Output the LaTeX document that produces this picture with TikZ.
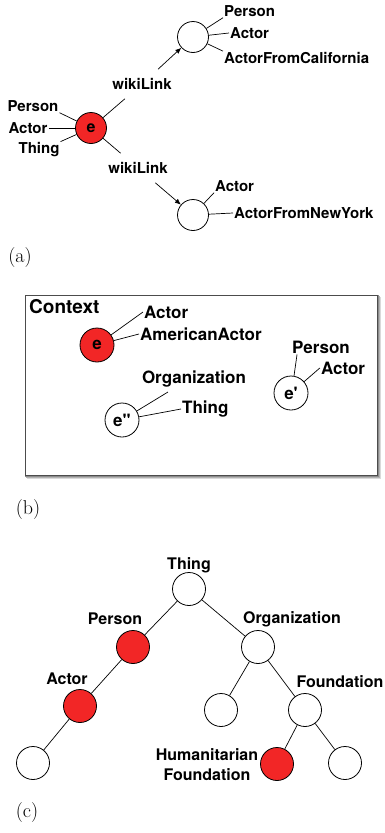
\documentclass[tikz,border=0pt]{standalone}
\usepackage{fontspec}
\newfontfamily\hv{TeX Gyre Heros}[Ligatures=TeXOff]
\usetikzlibrary{arrows.meta}
\definecolor{nodered}{RGB}{242,38,38}
\begin{document}
\begin{tikzpicture}[x=1pt,y=-1pt,
 la/.style={font=\hv\bfseries\fontsize{15}{17}\selectfont, inner sep=1pt},
 lb/.style={font=\hv\bfseries\fontsize{17}{19}\selectfont, inner sep=1pt},
 lc/.style={font=\hv\bfseries\fontsize{16}{20}\selectfont, inner sep=0pt, align=center},
 ent/.style={circle, draw=black, line width=0.8pt, inner sep=0pt, fill=white},
 redent/.style={ent, fill=nodered},
 conn/.style={line width=0.7pt},
 wl/.style={la, inner xsep=2pt, inner ysep=9pt},
 panel/.style={font=\fontsize{20}{24}\selectfont, inner sep=0pt},
 arr/.style={conn, -{Latex[length=6pt,width=5pt]}}
]
\useasboundingbox (0,0) rectangle (385,833);

% ---------------- (a)
\node[redent, minimum size=31pt, font=\hv\bfseries\fontsize{16}{18}\selectfont] (ea) at (91,128) {e};
\node[ent, minimum size=31pt] (ta) at (193,37) {};
\node[ent, minimum size=31pt] (ba) at (193,215) {};
\node[wl] (w1) at (142,84) {wikiLink};
\node[wl] (w2) at (138,168) {wikiLink};
\draw[conn] (ea) -- (w1);
\draw[arr] (w1) -- (ta);
\draw[conn] (ea) -- (w2);
\draw[arr] (w2) -- (ba);

\node[la, anchor=west] (t1) at (223,11) {Person};
\node[la, anchor=west] (t2) at (229,33) {Actor};
\node[la, anchor=west] (t3) at (223,58) {ActorFromCalifornia};
\draw[conn] (ta) -- (t1.south west);
\draw[conn] (ta) -- (t2.west);
\draw[conn] (ta) -- (t3.north west);

\node[la, anchor=west] (b1) at (214,186) {Actor};
\node[la, anchor=west] (b2) at (233,213) {ActorFromNewYork};
\draw[conn] (ba) -- (b1.south west);
\draw[conn] (ba) -- (b2.west);

\node[la] (l1) at (33,106) {Person};
\node[la] (l2) at (28,128) {Actor};
\node[la] (l3) at (39,150) {Thing};
\draw[conn] (l1.south east) -- (ea);
\draw[conn] (l2.east) -- (ea);
\draw[conn] (l3.north east) -- (ea);

\node[panel] (pa) at (20,258) {(a)};

% ---------------- (b)
\fill[black!15] (27,297) rectangle (381,479);
\fill[black!30] (26,296) rectangle (380,478);
\fill[black!45] (25,295) rectangle (379,477);
\node[draw=black!70, line width=1.2pt, fill=white, minimum width=352pt, minimum height=180pt, inner sep=0pt, anchor=north west] (ctx) at (25,295) {};
\node[font=\hv\bfseries\fontsize{19}{21}\selectfont, inner sep=0pt, anchor=west] (ctxl) at (29,307) {Context};

\node[redent, minimum size=34pt, font=\hv\bfseries\fontsize{17}{19}\selectfont] (eb) at (97,345) {e};
\node[lb, anchor=west] (ba1) at (143,312) {Actor};
\node[lb, anchor=west] (ba2) at (139,334) {AmericanActor};
\draw[conn] (eb) -- (ba1.west);
\draw[conn] (eb) -- (ba2.west);

\node[ent, minimum size=34pt, font=\hv\bfseries\fontsize{17}{19}\selectfont] (ep) at (291,393) {e'};
\node[lb] (bp1) at (321,347) {Person};
\node[lb] (bp2) at (343,368) {Actor};
\draw[conn] (ep.80) -- ([xshift=6pt]bp1.south west);
\draw[conn] (ep) -- (bp2.west);

\node[ent, minimum size=34pt, font=\hv\bfseries\fontsize{17}{19}\selectfont] (epp) at (122,420) {e"};
\node[lb] (bo) at (194,379) {Organization};
\node[lb, anchor=west] (bt) at (181,409) {Thing};
\coordinate (orgend) at (168,392);
\draw[conn] (epp) -- (orgend);
\draw[conn] (epp) -- (bt.west);

\node[panel] (pb) at (28,510) {(b)};

% ---------------- (c)
\tikzset{cn/.style={ent, minimum size=33pt}, cr/.style={redent, minimum size=33pt}}
\node[cn] (cthing) at (189,589) {};
\node[cr] (cperson) at (133,647) {};
\node[cn] (corg) at (258,647) {};
\node[cr] (cactor) at (80,706) {};
\node[cn] (cleaf) at (33,763) {};
\node[cn] (cmid) at (221,710) {};
\node[cn] (cfound) at (305,710) {};
\node[cr] (chum) at (277,764) {};
\node[cn] (cright) at (345,763) {};
\draw[conn] (cthing) -- (cperson);
\draw[conn] (cthing) -- (corg);
\draw[conn] (cperson) -- (cactor);
\draw[conn] (cactor) -- (cleaf);
\draw[conn] (corg) -- (cmid);
\draw[conn] (corg) -- (cfound);
\draw[conn] (cfound) -- (chum);
\draw[conn] (cfound) -- (cright);

\node[lc] (lthing) at (189,565) {Thing};
\node[lc] (lperson) at (115,619) {Person};
\node[lc] (lorg) at (292,619) {Organization};
\node[lc] (lactor) at (67,679) {Actor};
\node[lc] (lfound) at (340,682) {Foundation};
\node[lc] (lhum) at (207,765) {Humanitarian\\Foundation};

\node[panel] (pc) at (27,812) {(c)};
\end{tikzpicture}
\end{document}
